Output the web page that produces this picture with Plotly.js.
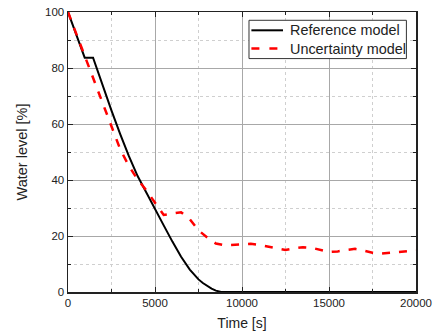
<!DOCTYPE html>
<html>
<head>
<meta charset="utf-8">
<script src="https://cdn.plot.ly/plotly-3.0.1.min.js"></script>
<style>
  html, body { margin: 0; padding: 0; background: #fff; }
  #chart { width: 440px; height: 336px; }
</style>
</head>
<body>
<div id="chart"></div>
<script>
// Water level over time for the two models
const refTime = [0, 960, 1440, 2000, 2500, 3000, 3500, 4000, 4500, 5000, 5500, 6000, 6500, 7000, 7250, 7500, 7750, 8000, 8250, 8500, 8650, 8800, 20000];
const refLevel = [100, 83.7, 83.7, 73.6, 64.8, 56.4, 48.5, 41.4, 35.4, 29.7, 23.8, 18.0, 12.6, 8.0, 6.1, 4.5, 3.2, 2.1, 1.2, 0.5, 0.15, 0, 0];

const uncTime = [0, 1000, 1500, 2000, 2500, 3000, 3500, 4000, 4500, 5000, 5500, 6000, 6500, 7000, 7500, 8000, 8500, 9000, 9500, 10000,
  10500, 11000, 11500, 12000, 12500, 13000, 13500, 14000, 14500, 15000, 15500, 16000, 16500, 17000, 17500, 18000, 18500, 19000, 19500, 20000];
const uncLevel = [100, 83.5, 75.5, 67.0, 59.0, 51.0, 45.0, 40.2, 36.3, 32.0, 27.5, 28.0, 28.5, 26.0, 22.0, 19.5, 17.3, 16.7, 16.8, 17.1,
  17.2, 16.8, 16.2, 15.4, 15.0, 15.6, 16.0, 15.8, 15.0, 14.3, 14.5, 14.9, 15.4, 14.8, 14.0, 13.7, 13.9, 14.3, 14.6, 14.8];

const seriesNames = ['Reference model', 'Uncertainty model'];
const seriesColors = ['#000000', '#ff0000'];

const xTicks = [0, 5000, 10000, 15000, 20000];
const yTicks = [0, 20, 40, 60, 80, 100];

const fontFamily = 'Liberation Sans, Arial, sans-serif';

const traces = [
  {
    x: refTime, y: refLevel, type: 'scatter', mode: 'lines',
    name: seriesNames[0],
    line: { color: seriesColors[0], width: 2 }
  },
  {
    x: uncTime, y: uncLevel, type: 'scatter', mode: 'lines',
    name: seriesNames[1],
    line: { color: seriesColors[1], width: 2.5, dash: '8px,9px' }
  }
];

// Compact boxed legend in the upper right corner (paper coordinates)
const legendBox = { x0: 0.5201, x1: 0.9724, y0: 0.8336, y1: 0.9704 };
const legendRows = [0.9346, 0.8693];
const legendLineX = [0.527, 0.6178];
const legendTextX = 0.6322;

const shapes = [
  {
    type: 'rect', xref: 'paper', yref: 'paper',
    x0: legendBox.x0, x1: legendBox.x1, y0: legendBox.y0, y1: legendBox.y1,
    line: { color: '#333', width: 1 }, fillcolor: '#ffffff', layer: 'above'
  },
  {
    type: 'line', xref: 'paper', yref: 'paper',
    x0: legendLineX[0], x1: legendLineX[1], y0: legendRows[0], y1: legendRows[0],
    line: { color: seriesColors[0], width: 2 }, layer: 'above'
  },
  {
    type: 'line', xref: 'paper', yref: 'paper',
    x0: legendLineX[0], x1: legendLineX[1], y0: legendRows[1], y1: legendRows[1],
    line: { color: seriesColors[1], width: 2.5, dash: '8px,10px' }, layer: 'above'
  }
];

const annotations = seriesNames.map((name, i) => ({
  text: name, xref: 'paper', yref: 'paper',
  x: legendTextX, y: legendRows[i], xanchor: 'left', yanchor: 'middle',
  showarrow: false, font: { family: fontFamily, size: 14.4, color: '#222' }
}));

const axisCommon = {
  showline: true, linecolor: '#222', linewidth: 1.5, mirror: 'ticks',
  ticks: 'inside', ticklen: 5, tickwidth: 1, tickcolor: '#222',
  showgrid: true, gridcolor: '#a8a8a8', gridwidth: 1,
  zeroline: false,
  tickfont: { family: fontFamily, size: 11.5, color: '#222' },
  automargin: false
};

const layout = {
  width: 440, height: 336,
  margin: { l: 68, r: 24, t: 12, b: 44 },
  paper_bgcolor: '#ffffff', plot_bgcolor: '#ffffff',
  showlegend: false,
  shapes: shapes,
  annotations: annotations,
  xaxis: Object.assign({}, axisCommon, {
    range: [0, 20000],
    tickvals: xTicks, ticktext: xTicks.map(String),
    minor: { dtick: 2500, tick0: 0, showgrid: true, gridcolor: '#cfcfcf', griddash: 'dot', gridwidth: 1, ticks: 'inside', ticklen: 3, tickcolor: '#222' },
    title: { text: 'Time [s]', font: { family: fontFamily, size: 14, color: '#222' }, standoff: 10 }
  }),
  yaxis: Object.assign({}, axisCommon, {
    range: [0, 100],
    tickvals: yTicks, ticktext: yTicks.map(String),
    minor: { dtick: 10, tick0: 0, showgrid: true, gridcolor: '#cfcfcf', griddash: 'dot', gridwidth: 1, ticks: 'inside', ticklen: 3, tickcolor: '#222' },
    title: { text: 'Water level [%]', font: { family: fontFamily, size: 14.5, color: '#222' }, standoff: 14 }
  })
};

Plotly.newPlot('chart', traces, layout, { displayModeBar: false, staticPlot: true });
</script>
</body>
</html>
